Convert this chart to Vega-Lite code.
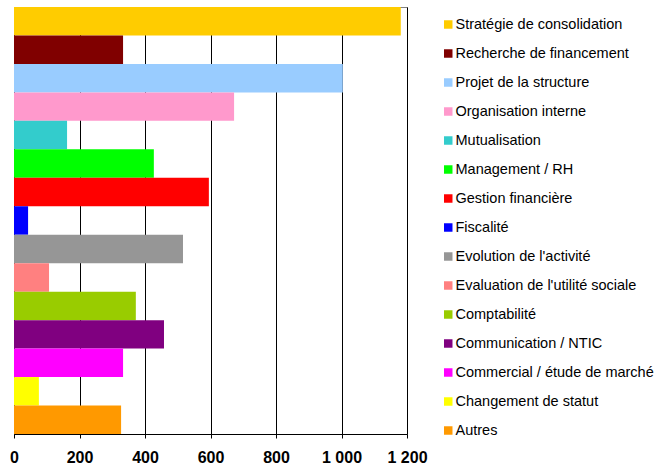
{
  "$schema": "https://vega.github.io/schema/vega-lite/v6.json",
  "autosize": "none",
  "width": 393,
  "height": 427,
  "padding": {"left": 14, "top": 7, "right": 252, "bottom": 35},
  "background": "white",
  "config": {
    "view": {"stroke": "#808080", "strokeWidth": 1},
    "font": "Liberation Sans"
  },
  "data": {
    "values": [
      {"cat": "Stratégie de consolidation", "v": 1181},
      {"cat": "Recherche de financement", "v": 333},
      {"cat": "Projet de la structure", "v": 1004},
      {"cat": "Organisation interne", "v": 672},
      {"cat": "Mutualisation", "v": 162},
      {"cat": "Management / RH", "v": 427},
      {"cat": "Gestion financière", "v": 595},
      {"cat": "Fiscalité", "v": 43},
      {"cat": "Evolution de l'activité", "v": 516},
      {"cat": "Evaluation de l'utilité sociale", "v": 107},
      {"cat": "Comptabilité", "v": 372},
      {"cat": "Communication / NTIC", "v": 458},
      {"cat": "Commercial / étude de marché", "v": 333},
      {"cat": "Changement de statut", "v": 76},
      {"cat": "Autres", "v": 327}
    ]
  },
  "mark": {"type": "bar"},
  "encoding": {
    "y": {
      "field": "cat",
      "type": "nominal",
      "sort": null,
      "scale": {"paddingInner": 0, "paddingOuter": 0},
      "axis": {"labels": false, "ticks": false, "title": null, "domainColor": "#000", "grid": false}
    },
    "x": {
      "field": "v",
      "type": "quantitative",
      "scale": {"domain": [0, 1200], "nice": false},
      "axis": {
        "values": [0, 200, 400, 600, 800, 1000, 1200],
        "title": null,
        "grid": true,
        "gridColor": "#000",
        "gridOpacity": 1,
        "domainColor": "#000",
        "tickColor": "#000",
        "tickSize": 4,
        "labelPadding": 11,
        "labelFontSize": 16,
        "labelFontWeight": "bold",
        "labelColor": "#000",
        "labelFlush": false,
        "labelExpr": "replace(format(datum.value, ','), ',', ' ')"
      }
    },
    "color": {
      "field": "cat",
      "type": "nominal",
      "scale": {
        "domain": ["Stratégie de consolidation", "Recherche de financement", "Projet de la structure", "Organisation interne", "Mutualisation", "Management / RH", "Gestion financière", "Fiscalité", "Evolution de l'activité", "Evaluation de l'utilité sociale", "Comptabilité", "Communication / NTIC", "Commercial / étude de marché", "Changement de statut", "Autres"],
        "range": ["#FFCC00", "#800000", "#99CCFF", "#FF99CC", "#33CCCC", "#00FF00", "#FF0000", "#0000FF", "#969696", "#FF8080", "#99CC00", "#800080", "#FF00FF", "#FFFF00", "#FF9900"]
      },
      "legend": {
        "title": null,
        "orient": "none",
        "legendX": 427,
        "legendY": 10.25,
        "symbolType": "square",
        "symbolSize": 72,
        "symbolStrokeWidth": 0,
        "symbolOpacity": 1,
        "labelFontSize": 14.5,
        "labelColor": "#000",
        "labelOffset": 0,
        "labelLimit": 300,
        "rowPadding": 14.0,
        "padding": 0
      }
    }
  }
}
